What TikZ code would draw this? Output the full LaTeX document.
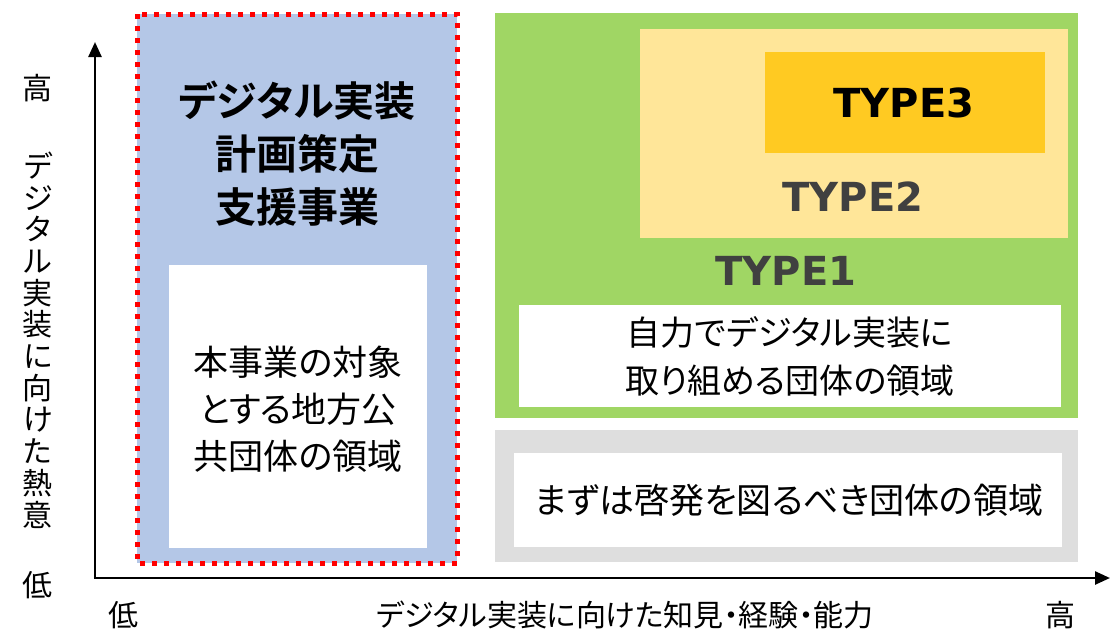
\documentclass[tikz,border=0pt]{standalone}
\usepackage{fontspec}
\usetikzlibrary{arrows.meta}
\newfontfamily\jp{Noto Sans CJK JP}[RawFeature=+palt]
\newfontfamily\jpb{Noto Sans CJK JP Bold}[RawFeature=+palt]
\newfontfamily\typef{DejaVu Sans}
\definecolor{blueC}{HTML}{B4C7E7}
\definecolor{greenC}{HTML}{A0D664}
\definecolor{lyC}{HTML}{FFE699}
\definecolor{orC}{HTML}{FFCA22}
\definecolor{greyC}{HTML}{DEDEDE}
\definecolor{dgrey}{HTML}{404040}
\definecolor{redC}{HTML}{FF0000}
\tikzset{
  area/.style={draw=none, inner sep=0pt, outer sep=0pt, anchor=north west},
  txt/.style={inner sep=0pt, align=center, text=black},
  typelbl/.style={inner sep=0pt, font=\typef\bfseries\fontsize{40}{44}\selectfont},
  axis/.style={line width=2.5pt, -{Triangle[width=13pt,length=15pt]}},
}
\begin{document}
\begin{tikzpicture}[x=1pt,y=-1pt]
\useasboundingbox (0,0) rectangle (1112,633);
% left blue area
\node[area, fill=blueC, minimum width=320pt, minimum height=549pt] (blue) at (137,14) {};
\draw[redC, line width=5pt, dash pattern=on 5pt off 7pt] (blue.north west) rectangle (blue.south east);
\node[area, fill=white, minimum width=258pt, minimum height=283pt] (bwhite) at (169,265) {};
\node[txt, font=\jpb\fontsize{41}{53}\selectfont] (btitle) at (297,154) {デジタル実装\\計画策定\\支援事業};
\node[txt, font=\jp\fontsize{35}{47}\selectfont] (btext) at (298,409) {本事業の対象\\とする地方公\\共団体の領域};
% green area
\node[area, fill=greenC, minimum width=583pt, minimum height=405pt] (green) at (495,13) {};
\node[area, fill=lyC, minimum width=428pt, minimum height=209pt] (ly) at (640,29) {};
\node[area, fill=orC, minimum width=280pt, minimum height=101pt] (or) at (765,52) {};
\node[typelbl, text=black] (t3) at (904,103) {TYPE3};
\node[typelbl, text=dgrey] (t2) at (853,197) {TYPE2};
\node[typelbl, text=dgrey] (t1) at (786,271) {TYPE1};
\node[area, fill=white, minimum width=542pt, minimum height=102pt] (gwhite) at (519,305) {};
\node[txt, font=\jp\fontsize{34}{48}\selectfont] (gtext) at (790,356) {自力でデジタル実装に\\取り組める団体の領域};
% grey area
\node[area, fill=greyC, minimum width=583pt, minimum height=132pt] (grey) at (495,430) {};
\node[area, fill=white, minimum width=548pt, minimum height=94pt] (gw2) at (514,453) {};
\node[txt, font=\jp\fontsize{35}{42}\selectfont] (gytext) at (789,500) {まずは啓発を図るべき団体の領域};
% axes
\coordinate (origin) at (95,578);
\coordinate (ytop) at (95,42);
\coordinate (xend) at (1110,578);
\draw[axis] (origin) -- (ytop);
\draw[axis] ([xshift=-1.25pt]origin) -- (xend);
% axis labels
\node[txt, font=\jp\fontsize{30}{32}\selectfont] (yhigh) at (38,88) {高};
\node[txt, font=\jp\fontsize{30}{31.7}\selectfont] (ylabel) at (38,340) {デ\\ジ\\タ\\ル\\実\\装\\に\\向\\け\\た\\熱\\意};
\node[txt, font=\jp\fontsize{30}{32}\selectfont] (ylow) at (38,585) {低};
\node[txt, font=\jp\fontsize{30}{32}\selectfont] (xlow) at (123,615) {低};
\node[txt, font=\jp\fontsize{30}{32}\selectfont] (xlabel) at (625,615) {デジタル実装に向けた知見・経験・能力};
\node[txt, font=\jp\fontsize{30}{32}\selectfont] (xhigh) at (1060,615) {高};
\end{tikzpicture}
\end{document}
